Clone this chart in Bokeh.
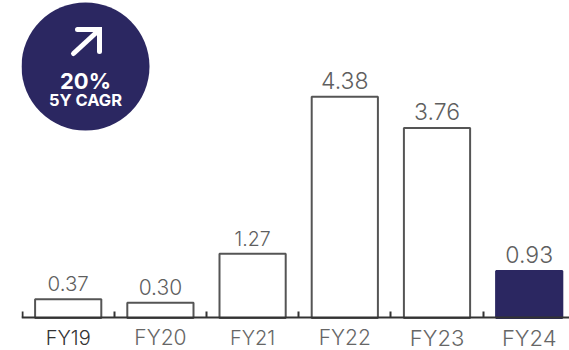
from bokeh.embed import file_html
from bokeh.resources import INLINE
from bokeh.plotting import figure
from bokeh.models import ColumnDataSource, FixedTicker, LinearAxis, Range1d
from bokeh.core.properties import value

years = ["FY19", "FY20", "FY21", "FY22", "FY23", "FY24"]
revenue = [0.37, 0.30, 1.27, 4.38, 3.76, 0.93]
value_labels = ["0.37", "0.30", "1.27", "4.38", "3.76", "0.93"]
bar_fill = ["#ffffff"] * 5 + ["#2b2761"]
bar_line = ["#555555"] * 5 + ["#2b2761"]
value_size = ["20.5px", "21px", "19.5px", "23px", "23px", "23px"]
year_size = ["20px", "21px", "20px", "21px", "22px", "22px"]
year_color = ["#333333", "#666666", "#666666", "#666666", "#666666", "#666666"]
badge_big = "20%"
badge_small = "5Y CAGR"

NAVY = "#2b2761"
FONT = "Inter Light"
WIDTH, HEIGHT = 569, 350
LEFT = 21

slots = list(range(len(years)))

p = figure(
    width=WIDTH, height=HEIGHT, output_backend="svg", toolbar_location=None,
    x_range=Range1d(-0.5065, 5.437), y_range=Range1d(-0.6436, 6.287),
    min_border_left=LEFT, min_border_right=0, min_border_top=0, min_border_bottom=0,
    x_axis_location=None, y_axis_location=None, outline_line_color=None,
)
p.grid.visible = False
p.background_fill_color = "#ffffff"

# Pixel-scaled range pair for the badge in the corner
p.extra_x_ranges["px"] = Range1d(LEFT, WIDTH)
p.extra_y_ranges["px"] = Range1d(HEIGHT, 0)

source = ColumnDataSource(dict(
    x=slots, top=revenue, label=value_labels, year=years,
    fill=bar_fill, line=bar_line, vsize=value_size, size=year_size, ycolor=year_color,
    base=[-0.39] * len(years),
))

p.vbar(x="x", top="top", bottom=0, width=0.718, source=source,
       fill_color="fill", line_color="line", line_width=2)

# Baseline with small upward ticks between the categories
axis = LinearAxis(
    ticker=FixedTicker(ticks=[], minor_ticks=[s - 0.5 for s in slots]),
    fixed_location=0, axis_line_color="#333333", axis_line_width=2,
    major_label_text_font_size="0px", major_tick_line_color=None,
    minor_tick_in=6, minor_tick_out=0, minor_tick_line_color="#333333",
    minor_tick_line_width=2,
)
p.add_layout(axis, "below")

p.text(x="x", y="top", text="label", source=source, y_offset=-8,
       text_align="center", text_baseline="bottom",
       text_font=value(FONT), text_font_size="vsize", text_color="#5f5f5f")
p.text(x="x", y="base", text="year", source=source,
       text_align="center", text_baseline="middle",
       text_font=value(FONT), text_font_size="size", text_color="ycolor")

# Growth badge
p.circle(x=[85], y=[66], radius=64, fill_color=NAVY, line_color=None,
         x_range_name="px", y_range_name="px")
p.line(x=[73, 98], y=[53, 30], line_color="white", line_width=5, line_cap="round",
       x_range_name="px", y_range_name="px")
p.line(x=[77, 99, 99], y=[29, 29, 51], line_color="white", line_width=5,
       line_cap="round", line_join="miter", x_range_name="px", y_range_name="px")
p.text(x=[85], y=[80], text=[badge_big], text_align="center", text_baseline="middle",
       text_font=value("Inter"), text_font_size="22px", text_font_style="bold",
       text_color="white", x_range_name="px", y_range_name="px")
p.text(x=[85], y=[99], text=[badge_small], text_align="center", text_baseline="middle",
       text_font=value("Inter"), text_font_size="16.5px", text_font_style="bold",
       text_color="white", x_range_name="px", y_range_name="px")

open("out.html", "w").write(file_html(p, INLINE))
